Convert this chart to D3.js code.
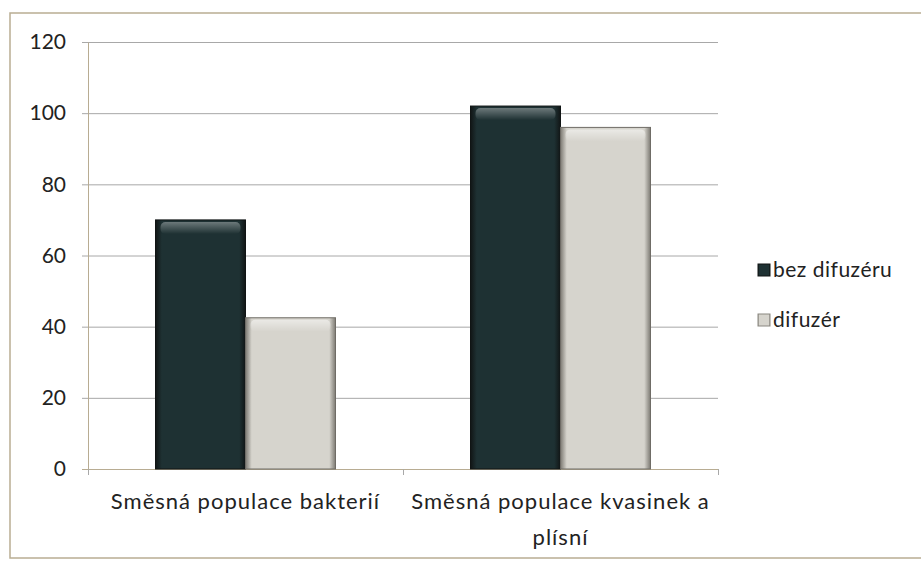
<!DOCTYPE html>
<html>
<head>
<meta charset="utf-8">
<script src="https://cdn.jsdelivr.net/npm/d3@7"></script>
<style>
  body { margin: 0; background: #fff; }
  svg text { font-family: Lato, "Open Sans", sans-serif; fill: #222; }
</style>
</head>
<body>
<div id="chart"></div>
<script>
// Chart data
var categories = ["Směsná populace bakterií", "Směsná populace kvasinek a plísní"];
var seriesNames = ["bez difuzéru", "difuzér"];
var bezDifuzeru = [70, 102];
var difuzer = [42.5, 96];
var yTicks = [0, 20, 40, 60, 80, 100, 120];

var width = 921;
var height = 562;
var plot = { left: 88, right: 718, top: 42, bottom: 469 };

var svg = d3.select("#chart")
  .append("svg")
  .attr("width", width)
  .attr("height", height);

// Gradients for the bevelled bars
var defs = svg.append("defs");
function bevel(id, edge, mid) {
  var g = defs.append("linearGradient").attr("id", id)
    .attr("x1", "0").attr("x2", "1").attr("y1", "0").attr("y2", "0");
  g.append("stop").attr("offset", "0%").attr("stop-color", edge);
  g.append("stop").attr("offset", "7%").attr("stop-color", mid);
  g.append("stop").attr("offset", "93%").attr("stop-color", mid);
  g.append("stop").attr("offset", "100%").attr("stop-color", edge);
}
bevel("darkFill", "#111515", "#1e3133");
bevel("lightFill", "#7d7a73", "#d6d4cd");
var shine = defs.append("linearGradient").attr("id", "shine")
  .attr("x1", "0").attr("x2", "0").attr("y1", "0").attr("y2", "1");
shine.append("stop").attr("offset", "0%").attr("stop-color", "#fff").attr("stop-opacity", 0.5);
shine.append("stop").attr("offset", "100%").attr("stop-color", "#fff").attr("stop-opacity", 0);

// Outer frame
svg.append("rect")
  .attr("x", 10).attr("y", 13)
  .attr("width", 920).attr("height", 545)
  .attr("fill", "none")
  .attr("stroke", "#b9ad93")
  .attr("stroke-width", 1.5);

// Scales
var x0 = d3.scaleBand()
  .domain(categories)
  .range([plot.left, plot.right])
  .paddingInner(0)
  .paddingOuter(0);
var x1 = d3.scaleBand()
  .domain(seriesNames)
  .range([67.5, x0.bandwidth() - 67.5]);
var y = d3.scaleLinear()
  .domain([0, 120])
  .range([plot.bottom, plot.top]);

// Gridlines
svg.append("g")
  .selectAll("line")
  .data(yTicks)
  .enter()
  .append("line")
  .attr("x1", plot.left - 6)
  .attr("x2", plot.right)
  .attr("y1", function(d) { return y(d) + 0.5; })
  .attr("y2", function(d) { return y(d) + 0.5; })
  .attr("stroke", function(d) { return d === 0 ? "#b8ac92" : "#a8a8a8"; })
  .attr("stroke-width", 1);

// Y axis labels
var yAxis = d3.axisLeft(y).tickValues(yTicks).tickSize(0).tickPadding(22);
var yG = svg.append("g")
  .attr("transform", "translate(" + plot.left + ",0)")
  .call(yAxis);
yG.select(".domain").attr("stroke", "#b8ac92");
yG.selectAll("text")
  .attr("font-size", 21)
  .attr("font-family", "Lato, 'Open Sans', sans-serif")
  .attr("fill", "#222");

// Category tick marks
svg.append("g")
  .selectAll("line")
  .data([plot.left, x0(categories[1]), plot.right])
  .enter()
  .append("line")
  .attr("x1", function(d) { return d + 0.5; })
  .attr("x2", function(d) { return d + 0.5; })
  .attr("y1", plot.bottom)
  .attr("y2", plot.bottom + 6)
  .attr("stroke", "#a8a8a8");

// Bars
var fills = ["url(#darkFill)", "url(#lightFill)"];
var rows = categories.map(function(c, i) {
  return [
    { cat: c, series: seriesNames[0], value: bezDifuzeru[i], fill: fills[0] },
    { cat: c, series: seriesNames[1], value: difuzer[i], fill: fills[1] }
  ];
});

var groups = svg.append("g")
  .selectAll("g")
  .data(rows)
  .enter()
  .append("g")
  .attr("transform", function(d) { return "translate(" + x0(d[0].cat) + ",0)"; });

var bars = groups.selectAll("g")
  .data(function(d) { return d; })
  .enter()
  .append("g");

bars.append("rect")
  .attr("x", function(d) { return x1(d.series); })
  .attr("y", function(d) { return y(d.value); })
  .attr("width", x1.bandwidth())
  .attr("height", function(d) { return plot.bottom - y(d.value); })
  .attr("fill", function(d) { return d.fill; })
  .attr("stroke", function(d) { return d.series === seriesNames[0] ? "#101414" : "#6f6c66"; })
  .attr("stroke-width", 1);

bars.append("rect")
  .attr("x", function(d) { return x1(d.series) + 5; })
  .attr("y", function(d) { return y(d.value) + 2; })
  .attr("width", x1.bandwidth() - 10)
  .attr("height", 12)
  .attr("rx", 5)
  .attr("fill", "url(#shine)")
  .attr("opacity", function(d) { return d.series === seriesNames[0] ? 0.7 : 1; });

// Category labels
var catLines = [["Směsná populace bakterií"], ["Směsná populace kvasinek a", "plísní"]];
categories.forEach(function(c, i) {
  var t = svg.append("text")
    .attr("x", x0(c) + x0.bandwidth() / 2)
    .attr("y", 509)
    .attr("text-anchor", "middle")
    .attr("font-size", 22)
    .attr("letter-spacing", 1);
  catLines[i].forEach(function(line, j) {
    t.append("tspan")
      .attr("x", x0(c) + x0.bandwidth() / 2)
      .attr("dy", j === 0 ? 0 : 36)
      .text(line);
  });
});

// Legend
var legend = svg.append("g")
  .selectAll("g")
  .data(seriesNames)
  .enter()
  .append("g")
  .attr("transform", function(d, i) { return "translate(758," + (264 + i * 50) + ")"; });

legend.append("rect")
  .attr("width", 12)
  .attr("height", 12)
  .attr("fill", function(d, i) { return fills[i]; })
  .attr("stroke", function(d, i) { return i === 0 ? "#101414" : "#8a8780"; });

legend.append("text")
  .attr("x", 15)
  .attr("y", 13)
  .attr("font-size", 21)
  .attr("letter-spacing", 0.5)
  .text(function(d) { return d; });
</script>
</body>
</html>
